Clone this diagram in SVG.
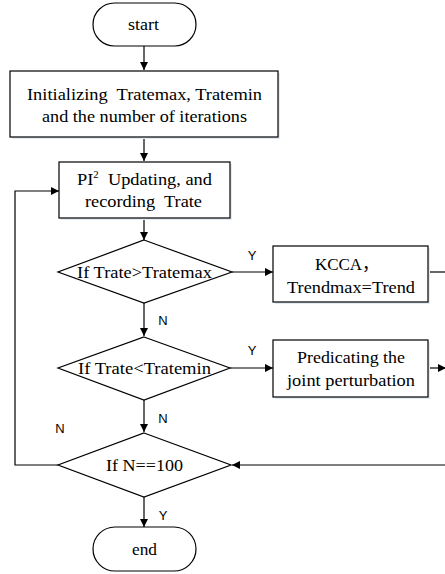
<svg xmlns="http://www.w3.org/2000/svg" width="445" height="574" viewBox="0 0 445 574">
<style>
.shape{fill:#fff;stroke:#000;stroke-width:1.2}
.shadow{fill:#e3ebf5;stroke:none}
.t{font-family:"Liberation Serif","Times New Roman","Noto Sans CJK SC",serif;font-size:17px;fill:#000;text-anchor:middle}
.lbl{font-family:"Liberation Sans",Arial,sans-serif;font-size:13px;fill:#000;text-anchor:middle}
.c{fill:none;stroke:#000;stroke-width:1.2}
</style>
<defs>
<marker id="ah" viewBox="0 0 10 10" refX="10" refY="5" markerWidth="8" markerHeight="8" markerUnits="userSpaceOnUse" orient="auto">
<path d="M0,0 L10,5 L0,10 z" fill="#000"/>
</marker>
</defs>
<rect width="445" height="574" fill="#fff"/>
<g id="connectors">
<path class="c" d="M144,46 V70" marker-end="url(#ah)"/>
<path class="c" d="M144,137 V161" marker-end="url(#ah)"/>
<path class="c" d="M144,218 V240" marker-end="url(#ah)"/>
<path class="c" d="M232,272 H273" marker-end="url(#ah)"/>
<path class="c" d="M144,303 V336" marker-end="url(#ah)"/>
<path class="c" d="M230,368 H273" marker-end="url(#ah)"/>
<path class="c" d="M144,400 V432" marker-end="url(#ah)"/>
<path class="c" d="M144,497 V527" marker-end="url(#ah)"/>
<path class="c" d="M428,272 H447"/>
<path class="c" d="M428,368 H446" marker-end="url(#ah)"/>
<path class="c" d="M447,465 H232" marker-end="url(#ah)"/>
<path class="c" d="M58,465 H15 V191 H59" marker-end="url(#ah)"/>
<text class="lbl" x="252" y="260">Y</text>
<text class="lbl" x="163" y="325">N</text>
<text class="lbl" x="252" y="355">Y</text>
<text class="lbl" x="163" y="423">N</text>
<text class="lbl" x="60" y="433">N</text>
<text class="lbl" x="163" y="520">Y</text>
</g>
<g id="start">
<rect class="shape" x="93" y="3" width="103" height="43" rx="21.5"/>
<text class="t" x="143.5" y="30" textLength="31" lengthAdjust="spacingAndGlyphs">start</text>
</g>
<g id="init">
<rect class="shadow" x="12" y="73" width="268" height="66"/>
<rect class="shape" x="10" y="71" width="268" height="66"/>
<text class="t" x="144.5" y="100" textLength="235" lengthAdjust="spacingAndGlyphs">Initializing&#160; Tratemax, Tratemin</text>
<text class="t" x="144.5" y="122" textLength="205" lengthAdjust="spacingAndGlyphs">and the number of iterations</text>
</g>
<g id="update">
<rect class="shadow" x="61" y="164" width="171" height="56"/>
<rect class="shape" x="59" y="162" width="171" height="56"/>
<text class="t" x="144.5" y="185" textLength="135" lengthAdjust="spacingAndGlyphs">PI<tspan font-size="10" dy="-7">2</tspan><tspan dy="7">&#160; Updating, and</tspan></text>
<text class="t" x="143.5" y="207" textLength="117" lengthAdjust="spacingAndGlyphs">recording&#160; Trate</text>
</g>
<g id="d1">
<polygon class="shape" points="144,240 232,272 144,303 58,272"/>
<text class="t" x="144.5" y="278" textLength="135" lengthAdjust="spacingAndGlyphs">If Trate&gt;Tratemax</text>
</g>
<g id="kcca">
<rect class="shadow" x="275" y="248" width="155" height="56"/>
<rect class="shape" x="273" y="246" width="155" height="56"/>
<text class="t" x="347" y="270">KCCA，</text>
<text class="t" x="351" y="293" textLength="128" lengthAdjust="spacingAndGlyphs">Trendmax=Trend</text>
</g>
<g id="d2">
<polygon class="shape" points="144,337 230,368 144,400 58,368"/>
<text class="t" x="144.5" y="374" textLength="133" lengthAdjust="spacingAndGlyphs">If Trate&lt;Tratemin</text>
</g>
<g id="predict">
<rect class="shadow" x="275" y="342" width="155" height="57"/>
<rect class="shape" x="273" y="340" width="155" height="57"/>
<text class="t" x="351" y="363" textLength="108" lengthAdjust="spacingAndGlyphs">Predicating the</text>
<text class="t" x="351" y="386" textLength="128" lengthAdjust="spacingAndGlyphs">joint perturbation</text>
</g>
<g id="d3">
<polygon class="shape" points="144,433 231,465 144,497 58,465"/>
<text class="t" x="144.5" y="471" textLength="77" lengthAdjust="spacingAndGlyphs">If N==100</text>
</g>
<g id="end">
<rect class="shape" x="93" y="527" width="103" height="44" rx="22"/>
<text class="t" x="144.5" y="555" textLength="25" lengthAdjust="spacingAndGlyphs">end</text>
</g>
</svg>
